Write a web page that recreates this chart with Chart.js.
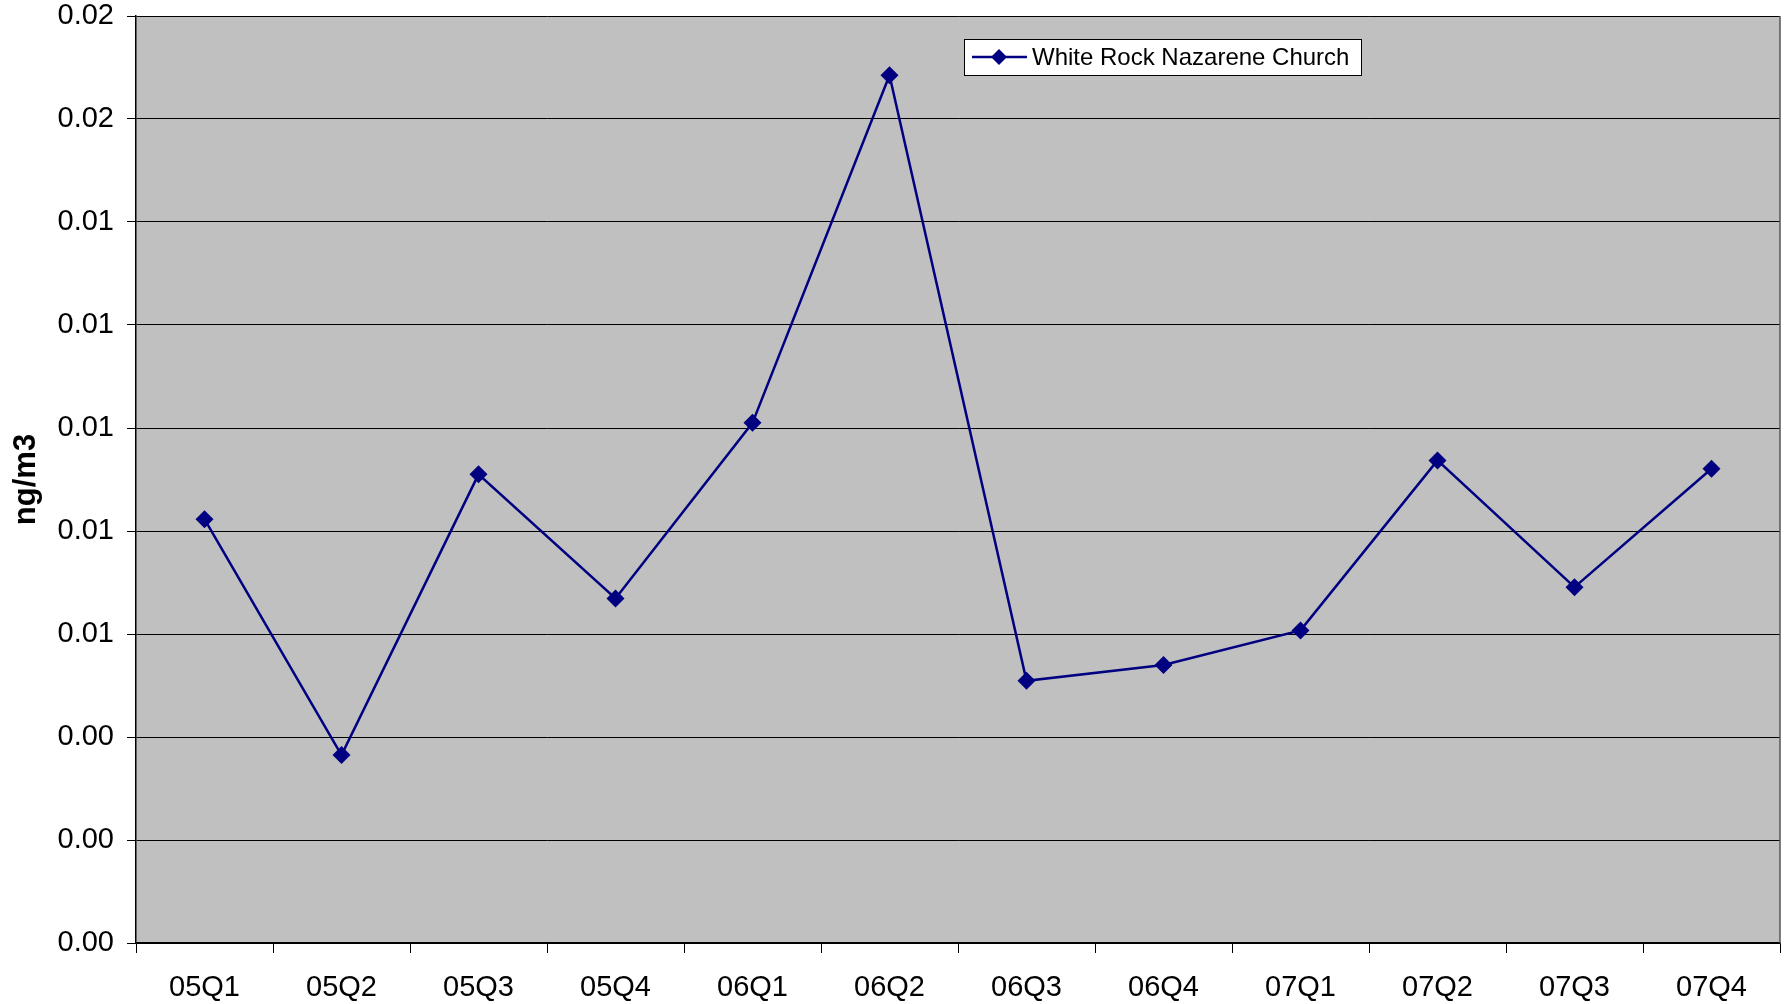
<!DOCTYPE html>
<html>
<head>
<meta charset="utf-8">
<script src="https://cdn.jsdelivr.net/npm/chart.js@4.4.1/dist/chart.umd.min.js"></script>
<style>
  html, body { margin: 0; padding: 0; background: #fff; }
  #wrap { width: 1784px; height: 1004px; }
</style>
</head>
<body>
<div id="wrap"><canvas id="chart"></canvas></div>
<script>
// data
const quarters = ['05Q1', '05Q2', '05Q3', '05Q4', '06Q1', '06Q2', '06Q3', '06Q4', '07Q1', '07Q2', '07Q3', '07Q4'];
const whiteRock = [0.00823, 0.00365, 0.00910, 0.00669, 0.01010, 0.01685, 0.00509, 0.00540, 0.00607, 0.00937, 0.00691, 0.00921];
const seriesName = 'White Rock Nazarene Church';
const yMin = 0;
const yMax = 0.018;
const yStep = 0.002;

const FONT = "'Liberation Sans', Arial, sans-serif";
const NAVY = '#000080';

// grey plot area + frame
const plotBg = {
  id: 'plotBg',
  beforeDraw(chart) {
    const { ctx, chartArea: a } = chart;
    ctx.save();
    ctx.fillStyle = '#c0c0c0';
    ctx.fillRect(a.left, a.top, a.right - a.left, a.bottom - a.top);
    ctx.restore();
  },
  afterDatasetsDraw(chart) {
    const { ctx, chartArea: a } = chart;
    ctx.save();
    ctx.strokeStyle = '#555';
    ctx.lineWidth = 1.5;
    ctx.beginPath();
    ctx.moveTo(a.right, a.top);
    ctx.lineTo(a.right, a.bottom);
    ctx.stroke();
    ctx.restore();
  }
};

// boxed legend inside the plot area
const boxLegend = {
  id: 'boxLegend',
  afterDraw(chart) {
    const { ctx } = chart;
    const x = 964, y = 39, w = 397, h = 36;
    ctx.save();
    ctx.fillStyle = '#fff';
    ctx.fillRect(x, y, w, h);
    ctx.strokeStyle = '#000';
    ctx.lineWidth = 1;
    ctx.strokeRect(x + 0.5, y + 0.5, w, h);
    const cy = y + h / 2;
    ctx.strokeStyle = NAVY;
    ctx.lineWidth = 2.5;
    ctx.beginPath();
    ctx.moveTo(x + 8, cy);
    ctx.lineTo(x + 63, cy);
    ctx.stroke();
    ctx.fillStyle = NAVY;
    ctx.beginPath();
    ctx.moveTo(x + 35, cy - 8);
    ctx.lineTo(x + 43, cy);
    ctx.lineTo(x + 35, cy + 8);
    ctx.lineTo(x + 27, cy);
    ctx.closePath();
    ctx.fill();
    ctx.fillStyle = '#000';
    ctx.font = '24px ' + FONT;
    ctx.textBaseline = 'middle';
    ctx.fillText(seriesName, x + 68, cy + 1);
    ctx.restore();
  }
};

new Chart(document.getElementById('chart'), {
  type: 'line',
  data: {
    labels: quarters,
    datasets: [{
      label: seriesName,
      data: whiteRock,
      borderColor: NAVY,
      backgroundColor: NAVY,
      borderWidth: 2.5,
      tension: 0,
      pointStyle: 'rectRot',
      pointRadius: 9,
      pointHoverRadius: 9,
      pointBackgroundColor: NAVY,
      pointBorderColor: NAVY,
      pointBorderWidth: 0
    }]
  },
  options: {
    responsive: true,
    maintainAspectRatio: false,
    animation: false,
    layout: { autoPadding: false, padding: { top: 16, right: 4, left: 0, bottom: 0 } },
    plugins: {
      legend: { display: false },
      tooltip: { enabled: false }
    },
    scales: {
      x: {
        offset: true,
        grid: {
          offset: true,
          drawOnChartArea: false,
          drawTicks: true,
          tickLength: 10,
          tickColor: '#000',
          tickWidth: 1
        },
        border: { color: '#000', width: 1.5 },
        ticks: {
          color: '#000',
          font: { family: FONT, size: 29 },
          padding: 18,
          maxRotation: 0,
          autoSkip: false
        },
        afterFit(scale) {
          scale.height = 61;
          scale.paddingLeft = 0;
          scale.paddingRight = 0;
        }
      },
      y: {
        min: yMin,
        max: yMax,
        grid: {
          color: '#000',
          lineWidth: 1,
          drawTicks: true,
          tickLength: 9,
          tickColor: '#000'
        },
        border: { color: '#000', width: 1.5 },
        ticks: {
          stepSize: yStep,
          color: '#000',
          font: { family: FONT, size: 29 },
          padding: 13,
          callback: v => v.toFixed(2)
        },
        title: {
          display: true,
          text: 'ng/m3',
          color: '#000',
          font: { family: FONT, size: 31, weight: 'bold' },
          padding: { top: 8, bottom: 0 }
        },
        afterFit(scale) {
          scale.width = 136;
          scale.paddingTop = 0;
          scale.paddingBottom = 0;
        }
      }
    }
  },
  plugins: [plotBg, boxLegend]
});
</script>
</body>
</html>
